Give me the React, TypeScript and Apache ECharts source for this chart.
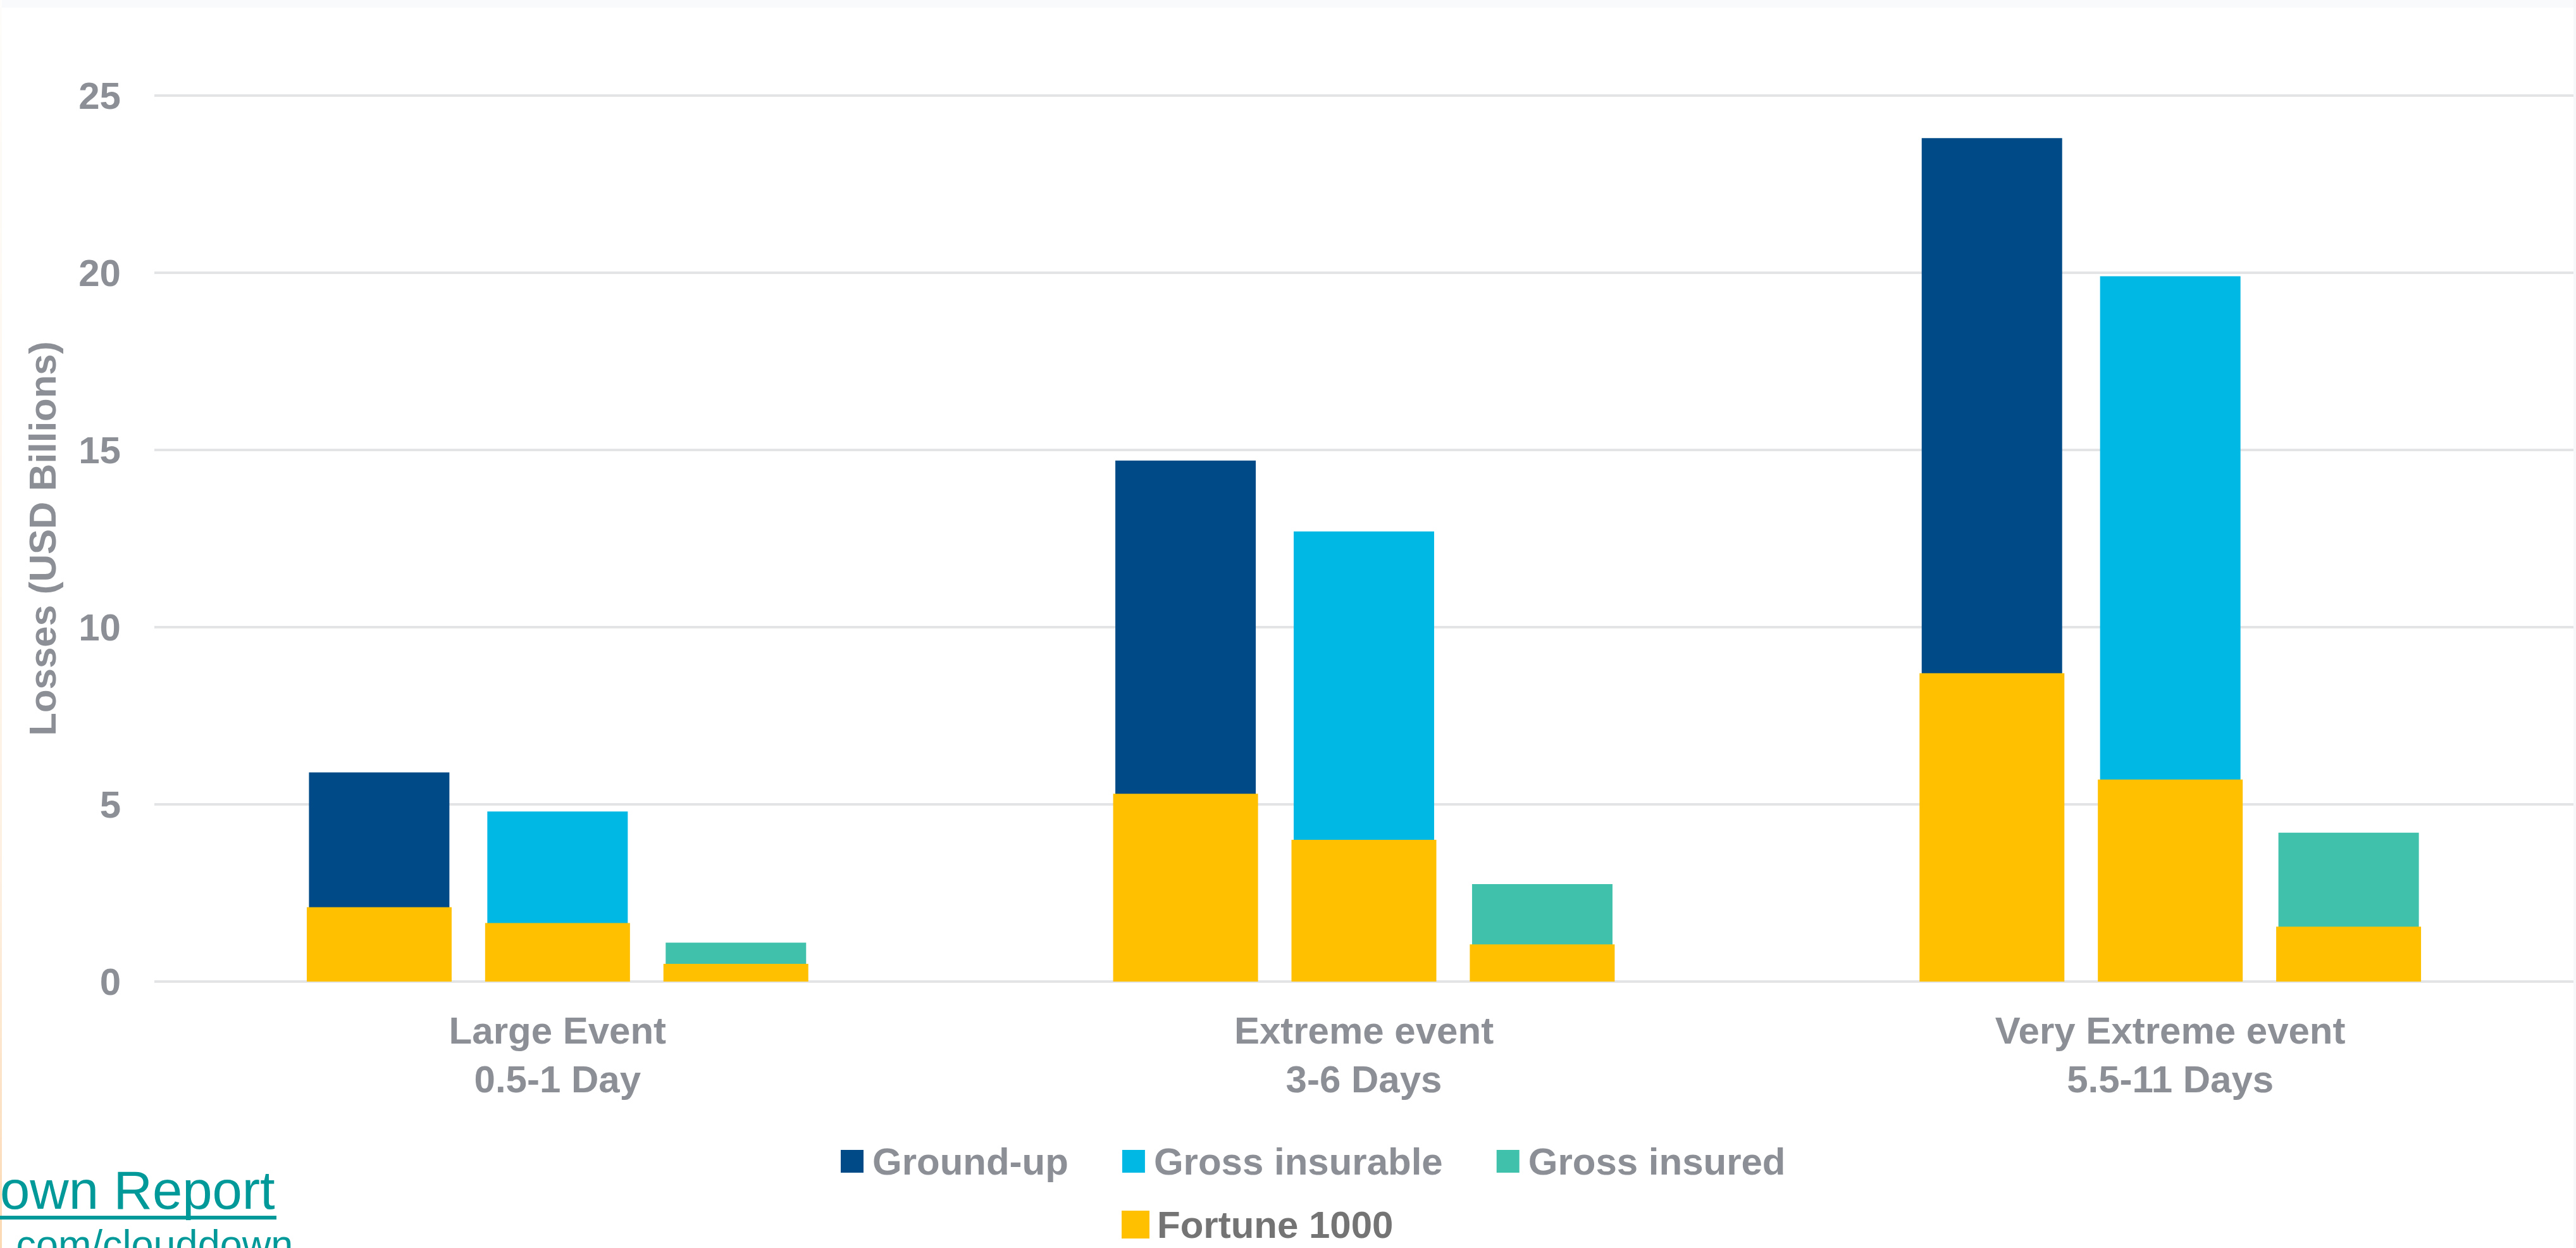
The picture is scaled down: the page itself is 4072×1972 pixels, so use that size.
import React, { useEffect, useRef } from "react";
import * as echarts from "echarts";

const categories = [
  "Large Event\n0.5-1 Day",
  "Extreme event\n3-6 Days",
  "Very Extreme event\n5.5-11 Days",
];
const groundUp = [5.9, 14.7, 23.8];
const grossInsurable = [4.8, 12.7, 19.9];
const grossInsured = [1.1, 2.75, 4.2];
const fortuneGroundUp = [2.1, 5.3, 8.7];
const fortuneInsurable = [1.65, 4.0, 5.7];
const fortuneInsured = [0.5, 1.05, 1.55];

const mainLegend = ["Ground-up", "Gross insurable", "Gross insured"];
const fortuneLegend = ["Fortune 1000"];
const yAxisTitle = "Losses (USD Billions)";
const linkLine1 = "own Report";
const linkLine2 = ".com/clouddown";

const FONT = "'Liberation Sans', Arial, sans-serif";
const GRAY = "#8c9096";
const C_GROUND = "#004b87";
const C_INSURABLE = "#00b8e4";
const C_INSURED = "#40c1ac";
const C_FORTUNE = "#ffc000";
const TEAL = "#009999";

export default function App() {
  const ref = useRef<HTMLDivElement>(null);

  useEffect(() => {
    if (!ref.current) return;
    const chart = echarts.init(ref.current, null, { renderer: "svg" });

    const coloredBar = (name: string, data: number[], color: string) => ({
      name,
      type: "bar",
      xAxisIndex: 0,
      data,
      barWidth: 222,
      barGap: "27%",
      itemStyle: { color },
      z: 2,
    });
    const fortuneBar = (data: number[]) => ({
      name: "Fortune 1000",
      type: "bar",
      xAxisIndex: 1,
      data,
      barWidth: 229,
      barGap: "23.1%",
      itemStyle: { color: C_FORTUNE },
      z: 3,
    });

    const option = {
      animation: false,
      backgroundColor: "#ffffff",
      grid: { left: 244, right: 4, top: 151, bottom: 421, containLabel: false },
      legend: [
        {
          data: mainLegend,
          left: 1329,
          top: 1805,
          padding: 0,
          orient: "horizontal",
          icon: "rect",
          itemWidth: 36,
          itemHeight: 36,
          itemGap: 85,
          selectedMode: false,
          textStyle: {
            fontFamily: FONT,
            fontSize: 60,
            fontWeight: "bold",
            color: GRAY,
            lineHeight: 36,
            padding: [0, 0, 0, 9],
          },
        },
        {
          data: fortuneLegend,
          left: 1773,
          top: 1905,
          padding: 0,
          icon: "rect",
          itemWidth: 44,
          itemHeight: 44,
          selectedMode: false,
          textStyle: {
            fontFamily: FONT,
            fontSize: 60,
            fontWeight: "bold",
            color: "#747474",
            lineHeight: 44,
            padding: [0, 0, 0, 7],
          },
        },
      ],
      xAxis: [
        {
          type: "category",
          data: categories,
          axisLine: { show: false },
          axisTick: { show: false },
          splitLine: { show: false },
          axisLabel: {
            interval: 0,
            fontFamily: FONT,
            fontSize: 60,
            fontWeight: "bold",
            color: GRAY,
            lineHeight: 77,
            margin: 39,
          },
        },
        {
          type: "category",
          data: categories,
          show: false,
        },
      ],
      yAxis: {
        type: "value",
        min: 0,
        max: 25,
        interval: 5,
        name: yAxisTitle,
        nameLocation: "middle",
        nameGap: 147,
        nameTextStyle: {
          fontFamily: FONT,
          fontSize: 60,
          fontWeight: "bold",
          color: GRAY,
        },
        axisLine: { show: false },
        axisTick: { show: false },
        axisLabel: {
          fontFamily: FONT,
          fontSize: 60,
          fontWeight: "bold",
          color: GRAY,
          margin: 53,
        },
        splitLine: { lineStyle: { color: "#e3e4e6", width: 4 } },
      },
      graphic: [
        {
          type: "rect",
          shape: { x: 0, y: 0, width: 4072, height: 12 },
          style: { fill: "#f9fafc" },
          silent: true,
        },
        {
          type: "rect",
          shape: { x: 4068, y: 0, width: 4, height: 1972 },
          style: { fill: "#f6f7f9" },
          silent: true,
        },
        {
          type: "rect",
          shape: { x: 0, y: 0, width: 3, height: 1972 },
          style: {
            fill: new echarts.graphic.LinearGradient(0, 0, 0, 1, [
              { offset: 0, color: "#fefdfb" },
              { offset: 0.7, color: "#fdf0e2" },
              { offset: 1, color: "#fbd9b3" },
            ]),
          },
          silent: true,
        },
        {
          type: "text",
          x: 0,
          y: 1880,
          style: {
            text: linkLine1,
            fontFamily: FONT,
            fontSize: 85,
            fill: TEAL,
            verticalAlign: "middle",
            align: "left",
          },
          silent: true,
        },
        {
          type: "rect",
          shape: { x: 0, y: 1921, width: 437, height: 6 },
          style: { fill: TEAL },
          silent: true,
        },
        {
          type: "text",
          x: 8,
          y: 1966,
          style: {
            text: linkLine2,
            fontFamily: FONT,
            fontSize: 63,
            fill: TEAL,
            verticalAlign: "middle",
            align: "left",
          },
          silent: true,
        },
      ],
      series: [
        coloredBar("Ground-up", groundUp, C_GROUND),
        coloredBar("Gross insurable", grossInsurable, C_INSURABLE),
        coloredBar("Gross insured", grossInsured, C_INSURED),
        fortuneBar(fortuneGroundUp),
        fortuneBar(fortuneInsurable),
        fortuneBar(fortuneInsured),
      ],
    };

    chart.setOption(option as any);
    return () => chart.dispose();
  }, []);

  return (
    <div
      ref={ref}
      style={{ position: "fixed", left: 0, top: 0, width: 4072, height: 1972 }}
    />
  );
}
